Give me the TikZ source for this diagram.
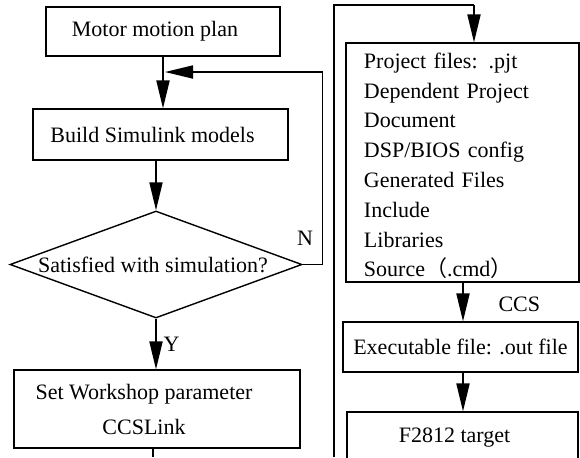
\documentclass[tikz,border=0pt]{standalone}
\usepackage{fontspec}
\setmainfont{Liberation Serif}
\newfontfamily\cjk{Noto Sans CJK SC}
\usetikzlibrary{shapes.geometric,arrows.meta}

\begin{document}
\begin{tikzpicture}[x=0.5pt,y=-0.5pt,
    font=\fontsize{11}{13}\selectfont,
    box/.style={draw,line width=0.55pt,inner sep=0pt},
    arr/.style={line width=0.9pt,-{Triangle[length=14pt,width=6.5pt]}},
    loop/.style={line width=0.65pt}]
                \useasboundingbox (0,0) rectangle (580,457);
                \clip (0,0) rectangle (580,457);
                \node[box,minimum width=117pt,minimum height=24.5pt] (motor) at (163,31.5) {\hspace*{-8pt}Motor motion plan};
                \node[box,minimum width=127.5pt,minimum height=25.5pt] (build) at (160.5,134.5) {\hspace*{-8pt}Build Simulink models};
                \node[box,diamond,minimum width=146pt,minimum height=53.5pt,line width=0.7pt] (dec) at (156,264.5) {};
                \node (dectext) at (dec.center) {\hspace*{-3pt}Satisfied with simulation?};
                \node[box,minimum width=143pt,minimum height=39pt,align=center,font=\fontsize{11}{17.5}\selectfont] (set) at (157,409) {\hspace*{-13pt}Set Workshop parameter\\ \hspace*{-13pt}CCSLink};
                \node[align=left,text width=104.5pt,inner sep=0pt,font=\fontsize{11}{14.9}\selectfont] (projtext) at (468.5,166) {Project files: .pjt\\ Dependent Project\\ Document\\ DSP/BIOS config\\ Generated Files\\ Include\\ Libraries\\ Source{\cjk （}.cmd{\cjk ）}};
                \node[box,minimum width=116.5pt,minimum height=119.5pt] (proj) at (462.5,162.5) {};
                \node[box,minimum width=117.5pt,minimum height=25pt] (exec) at (460.5,347) {Executable file: .out file};
                \node[box,minimum width=115.5pt,minimum height=26pt] (target) at (462.5,438) {\hspace*{-8pt}F2812 target};
                \coordinate (join) at (163,72);
                \coordinate (cutL) at (153,457);
                \coordinate (cutR) at (334,457);
                \coordinate (topR) at (474,5);
                \draw[arr] (motor.south) -- (motor.south |- build.north);
                \draw[loop] (dec.east) -- ++(20,0) |- (join -| 322,0) -- ([xshift=20pt]join);
                \draw[arr] ([xshift=20pt]join) -- ([xshift=1pt]join);
                \draw[arr] (build.south -| dec.north) -- (dec.north);
                \draw[arr] (dec.south) -- node[right,pos=0.5]{Y} (dec.south |- set.north);
                \node (nlabel) at (305,238) {N};
                \draw[line width=0.9pt] (set.south -| cutL) -- (cutL);
                \draw[loop] (cutR) |- (topR);
                \draw[arr] (topR) -- (topR |- proj.north);
                \draw[arr] (proj.south -| 463,0) -- node[right=14pt,pos=0.55]{CCS} (exec.north -| 463,0);
                \draw[arr] (exec.south -| 463,0) -- (target.north -| 463,0);
            \end{tikzpicture}
\end{document}
